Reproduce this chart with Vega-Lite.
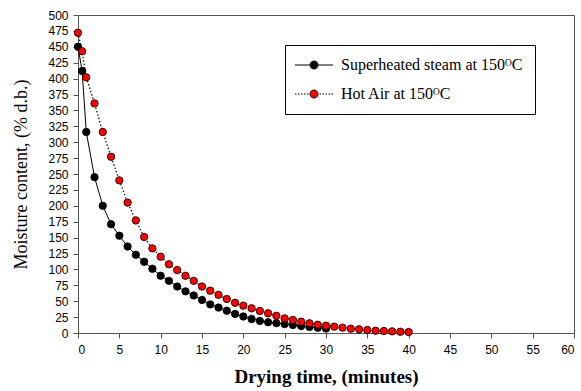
{
  "$schema": "https://vega.github.io/schema/vega-lite/v6.json",
  "width": 496,
  "height": 318,
  "autosize": {"type": "none"},
  "padding": {"left": 78, "top": 15, "right": 7, "bottom": 58},
  "background": "white",
  "config": {
    "view": {"stroke": "#555555", "strokeWidth": 1},
    "axis": {
      "grid": false,
      "domainColor": "#555555",
      "tickColor": "#555555",
      "tickSize": 5,
      "labelFont": "Liberation Sans",
      "labelFontSize": 12,
      "labelColor": "black",
      "titleFont": "Liberation Serif",
      "titleColor": "black"
    }
  },
  "datasets": {
    "pts": [
      {"t": 0, "m": 450, "s": "Superheated steam at 150ᴼC"},
      {"t": 0.5, "m": 412, "s": "Superheated steam at 150ᴼC"},
      {"t": 1, "m": 316, "s": "Superheated steam at 150ᴼC"},
      {"t": 2, "m": 245, "s": "Superheated steam at 150ᴼC"},
      {"t": 3, "m": 200, "s": "Superheated steam at 150ᴼC"},
      {"t": 4, "m": 171, "s": "Superheated steam at 150ᴼC"},
      {"t": 5, "m": 153, "s": "Superheated steam at 150ᴼC"},
      {"t": 6, "m": 136, "s": "Superheated steam at 150ᴼC"},
      {"t": 7, "m": 123, "s": "Superheated steam at 150ᴼC"},
      {"t": 8, "m": 112, "s": "Superheated steam at 150ᴼC"},
      {"t": 9, "m": 101, "s": "Superheated steam at 150ᴼC"},
      {"t": 10, "m": 90, "s": "Superheated steam at 150ᴼC"},
      {"t": 11, "m": 82, "s": "Superheated steam at 150ᴼC"},
      {"t": 12, "m": 73, "s": "Superheated steam at 150ᴼC"},
      {"t": 13, "m": 65.5, "s": "Superheated steam at 150ᴼC"},
      {"t": 14, "m": 59, "s": "Superheated steam at 150ᴼC"},
      {"t": 15, "m": 52, "s": "Superheated steam at 150ᴼC"},
      {"t": 16, "m": 45, "s": "Superheated steam at 150ᴼC"},
      {"t": 17, "m": 40, "s": "Superheated steam at 150ᴼC"},
      {"t": 18, "m": 35, "s": "Superheated steam at 150ᴼC"},
      {"t": 19, "m": 30, "s": "Superheated steam at 150ᴼC"},
      {"t": 20, "m": 26, "s": "Superheated steam at 150ᴼC"},
      {"t": 21, "m": 22, "s": "Superheated steam at 150ᴼC"},
      {"t": 22, "m": 19, "s": "Superheated steam at 150ᴼC"},
      {"t": 23, "m": 17, "s": "Superheated steam at 150ᴼC"},
      {"t": 24, "m": 15.5, "s": "Superheated steam at 150ᴼC"},
      {"t": 25, "m": 14, "s": "Superheated steam at 150ᴼC"},
      {"t": 26, "m": 12.6, "s": "Superheated steam at 150ᴼC"},
      {"t": 27, "m": 11, "s": "Superheated steam at 150ᴼC"},
      {"t": 28, "m": 9.6, "s": "Superheated steam at 150ᴼC"},
      {"t": 29, "m": 8.3, "s": "Superheated steam at 150ᴼC"},
      {"t": 30, "m": 7, "s": "Superheated steam at 150ᴼC"},
      {"t": 0, "m": 472, "s": "Hot Air at 150ᴼC"},
      {"t": 0.5, "m": 443, "s": "Hot Air at 150ᴼC"},
      {"t": 1, "m": 402, "s": "Hot Air at 150ᴼC"},
      {"t": 2, "m": 361, "s": "Hot Air at 150ᴼC"},
      {"t": 3, "m": 316, "s": "Hot Air at 150ᴼC"},
      {"t": 4, "m": 277, "s": "Hot Air at 150ᴼC"},
      {"t": 5, "m": 240, "s": "Hot Air at 150ᴼC"},
      {"t": 6, "m": 205, "s": "Hot Air at 150ᴼC"},
      {"t": 7, "m": 177, "s": "Hot Air at 150ᴼC"},
      {"t": 8, "m": 151, "s": "Hot Air at 150ᴼC"},
      {"t": 9, "m": 133, "s": "Hot Air at 150ᴼC"},
      {"t": 10, "m": 120, "s": "Hot Air at 150ᴼC"},
      {"t": 11, "m": 108, "s": "Hot Air at 150ᴼC"},
      {"t": 12, "m": 99, "s": "Hot Air at 150ᴼC"},
      {"t": 13, "m": 90, "s": "Hot Air at 150ᴼC"},
      {"t": 14, "m": 82, "s": "Hot Air at 150ᴼC"},
      {"t": 15, "m": 73, "s": "Hot Air at 150ᴼC"},
      {"t": 16, "m": 66.5, "s": "Hot Air at 150ᴼC"},
      {"t": 17, "m": 60, "s": "Hot Air at 150ᴼC"},
      {"t": 18, "m": 53.5, "s": "Hot Air at 150ᴼC"},
      {"t": 19, "m": 47.5, "s": "Hot Air at 150ᴼC"},
      {"t": 20, "m": 43, "s": "Hot Air at 150ᴼC"},
      {"t": 21, "m": 38.8, "s": "Hot Air at 150ᴼC"},
      {"t": 22, "m": 34.6, "s": "Hot Air at 150ᴼC"},
      {"t": 23, "m": 31, "s": "Hot Air at 150ᴼC"},
      {"t": 24, "m": 27, "s": "Hot Air at 150ᴼC"},
      {"t": 25, "m": 23, "s": "Hot Air at 150ᴼC"},
      {"t": 26, "m": 20.4, "s": "Hot Air at 150ᴼC"},
      {"t": 27, "m": 17.8, "s": "Hot Air at 150ᴼC"},
      {"t": 28, "m": 15.2, "s": "Hot Air at 150ᴼC"},
      {"t": 29, "m": 13, "s": "Hot Air at 150ᴼC"},
      {"t": 30, "m": 11.5, "s": "Hot Air at 150ᴼC"},
      {"t": 31, "m": 10, "s": "Hot Air at 150ᴼC"},
      {"t": 32, "m": 8.4, "s": "Hot Air at 150ᴼC"},
      {"t": 33, "m": 6.8, "s": "Hot Air at 150ᴼC"},
      {"t": 34, "m": 5.8, "s": "Hot Air at 150ᴼC"},
      {"t": 35, "m": 4.7, "s": "Hot Air at 150ᴼC"},
      {"t": 36, "m": 3.6, "s": "Hot Air at 150ᴼC"},
      {"t": 37, "m": 3.1, "s": "Hot Air at 150ᴼC"},
      {"t": 38, "m": 2.6, "s": "Hot Air at 150ᴼC"},
      {"t": 39, "m": 2, "s": "Hot Air at 150ᴼC"},
      {"t": 40, "m": 1.5, "s": "Hot Air at 150ᴼC"}
    ]
  },
  "data": {"name": "pts"},
  "encoding": {
    "x": {
      "field": "t", "type": "quantitative",
      "scale": {"domain": [0, 60], "nice": false, "zero": false},
      "axis": {
        "title": "Drying time, (minutes)",
        "titleFontWeight": "bold",
        "titleFontSize": 19,
        "values": [0, 5, 10, 15, 20, 25, 30, 35, 40, 45, 50, 55, 60],
        "labelPadding": 6,
        "titlePadding": 12
      }
    },
    "y": {
      "field": "m", "type": "quantitative",
      "scale": {"domain": [0, 500], "nice": false},
      "axis": {
        "title": "Moisture content, (% d.b.)",
        "titleFontWeight": "normal",
        "titleFontSize": 18,
        "values": [0, 25, 50, 75, 100, 125, 150, 175, 200, 225, 250, 275, 300, 325, 350, 375, 400, 425, 450, 475, 500],
        "labelPadding": 5,
        "titlePadding": 17
      }
    }
  },
  "layer": [
    {
      "transform": [{"filter": "datum.s === 'Superheated steam at 150ᴼC'"}],
      "mark": {"type": "line", "color": "black", "strokeWidth": 1},
      "encoding": {}
    },
    {
      "transform": [{"filter": "datum.s === 'Hot Air at 150ᴼC'"}],
      "mark": {"type": "line", "color": "black", "strokeWidth": 1.2, "strokeDash": [1.5, 2]},
      "encoding": {}
    },
    {
      "mark": {"type": "point", "shape": "circle", "filled": true, "size": 55, "stroke": "black", "strokeWidth": 0.8, "opacity": 1},
      "encoding": {
        "fill": {
          "field": "s", "type": "nominal",
          "scale": {"domain": ["Superheated steam at 150ᴼC", "Hot Air at 150ᴼC"], "range": ["black", "#ff0000"]},
          "legend": {
            "title": null,
            "orient": "none",
            "legendX": 207,
            "legendY": 30,
            "padding": 12,
            "strokeColor": "black",
            "fillColor": "white",
            "labelFont": "Liberation Serif",
            "labelFontSize": 16,
            "labelColor": "black",
            "labelLimit": 400,
            "labelOffset": 19,
            "rowPadding": 13,
            "symbolSize": 100,
            "symbolOffset": 9,
            "symbolType": "M-3.8,0H-0.8M0.8,0H3.8M-0.8,0A0.8,0.8 0 1,0 0.8,0A0.8,0.8 0 1,0 -0.8,0Z",
            "symbolStrokeColor": "black",
            "symbolStrokeWidth": 1,
            "symbolOpacity": 1,
            "encode": {
              "symbols": {
                "update": {
                  "shape": {"signal": "datum.label === 'Hot Air at 150ᴼC' ? 'M-3.8,0H-3.5M-3.2,0H-2.9M-2.6,0H-2.3M-2,0H-1.7M-1.4,0H-1.1M1.1,0H1.4M1.7,0H2M2.3,0H2.6M2.9,0H3.2M3.5,0H3.8M-0.8,0A0.8,0.8 0 1,0 0.8,0A0.8,0.8 0 1,0 -0.8,0Z' : 'M-3.8,0H-0.8M0.8,0H3.8M-0.8,0A0.8,0.8 0 1,0 0.8,0A0.8,0.8 0 1,0 -0.8,0Z'"}
                }
              }
            }
          }
        }
      }
    }
  ]
}
